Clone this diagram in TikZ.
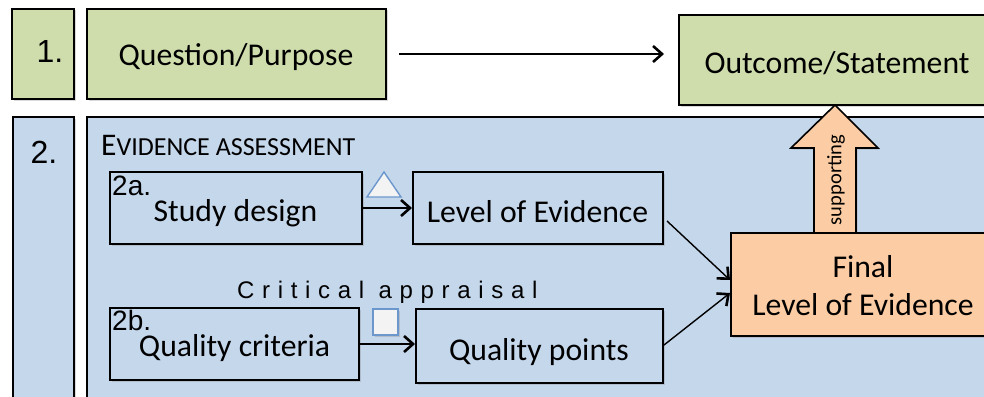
\documentclass[tikz,border=0pt]{standalone}
\usepackage{fontspec}
\setmainfont{Carlito}
\newfontfamily\arialf{Liberation Sans}
\newfontfamily\arialsp[LetterSpace=32]{Liberation Sans}
\usetikzlibrary{arrows.meta,shadows}
\definecolor{gfill}{RGB}{207,221,172}
\definecolor{bfill}{RGB}{197,215,235}
\definecolor{ofill}{RGB}{252,205,164}
\definecolor{sblue}{RGB}{108,151,205}
\definecolor{sfill}{RGB}{243,243,243}
\tikzset{
  box/.style={draw=black, line width=2pt, rectangle, inner sep=0pt,
    drop shadow={shadow xshift=1.5pt, shadow yshift=-1.5pt, opacity=0.3}},
  gbox/.style={box, fill=gfill},
  bbox/.style={box, fill=bfill},
  obox/.style={box, fill=ofill},
  txt/.style={inner sep=0pt, anchor=base, font=\fontsize{31.7}{38}\selectfont},
  numtxt/.style={inner sep=0pt, anchor=base, font=\arialf\fontsize{32}{36}\selectfont},
  subtxt/.style={inner sep=0pt, anchor=base west, font=\arialf\fontsize{28}{32}\selectfont},
  arr/.style={line width=1.4pt, -{Straight Barb[length=9pt, width=16pt, line width=2.6pt]}},
  marker/.style={draw=sblue, fill=sfill, line width=1.4pt},
}
\begin{document}
\begin{tikzpicture}[x=1pt,y=-1pt]
\useasboundingbox (0,0) rectangle (984,396);
\clip (0,0) rectangle (984,396);

% row 1
\node[gbox, minimum width=62pt, minimum height=90pt] (n1) at (43,54) {};
\node[gbox, minimum width=299pt, minimum height=90pt] (q) at (236.5,54) {};
\node[gbox, minimum width=316pt, minimum height=90pt] (out) at (837,60) {};
\node[numtxt] (t1) at (50,63) {1.};
\node[txt] (tq) at (236,66) {Question/Purpose};
\node[txt] (tout) at (837,73) {Outcome/Statement};
\draw[arr, shorten <=12pt, shorten >=14pt] (q.east) -- (q.east -| out.west);

% row 2 frames
\node[bbox, minimum width=61pt, minimum height=293pt] (n2) at (43.5,263.5) {};
\node[bbox, minimum width=913pt, minimum height=293pt] (big) at (543.5,263.5) {};
\node[numtxt] (t2) at (44,163) {2.};
\node[inner sep=0pt, anchor=base west] (tea) at (101,155)
  {{\fontsize{31.5}{36}\selectfont E}{\fontsize{26}{30}\selectfont VIDENCE ASSESSMENT}};

% supporting arrow
\path[fill=ofill, draw=black, line width=1.6pt,
  drop shadow={shadow xshift=1.5pt, shadow yshift=-1.5pt, opacity=0.3}]
  (814,234) -- (814,148) -- (791,148) -- (835,105) -- (878,148) -- (856,148) -- (856,234) -- cycle;
\node[inner sep=0pt, rotate=90, font=\fontsize{20.5}{24}\selectfont] (tsup) at (836,180) {supporting};

% inner boxes
\node[bbox, minimum width=252pt, minimum height=72pt] (sd) at (236,208) {};
\node[bbox, minimum width=250pt, minimum height=72pt] (loe) at (538,208) {};
\node[bbox, minimum width=249pt, minimum height=72pt] (qc) at (234.5,344) {};
\node[bbox, minimum width=247pt, minimum height=74pt] (qp) at (539.5,346) {};
\node[obox, minimum width=264pt, minimum height=103pt] (fin) at (863,284.5) {};

\node[subtxt] (t2a) at (112,195) {2a.};
\node[txt] (tsd) at (235.5,221) {Study design};
\node[txt] (tloe) at (537.5,222) {Level of Evidence};
\node[subtxt] (t2b) at (112,330) {2b.};
\node[txt] (tqc) at (234.5,356) {Quality criteria};
\node[txt] (tqp) at (539,360) {Quality points};
\node[txt] (tfin1) at (863,277) {Final};
\node[txt] (tfin2) at (863,315) {Level of Evidence};
\node[inner sep=0pt, anchor=base west, font=\arialsp\fontsize{24}{28}\selectfont] (tca) at (237,298) {Critical appraisal};

% markers
\path[marker] (367,197) -- (384,172) -- (401,197) -- cycle;
\node[marker, minimum width=25pt, minimum height=26pt, inner sep=0pt,
  drop shadow={shadow xshift=1.5pt, shadow yshift=-1.5pt, opacity=0.3}] (sq) at (385.5,322) {};

% connectors
\draw[arr] (sd.east) -- (loe.west);
\draw[arr] (qc.east) -- (qc.east -| qp.west);
\draw[arr] ([xshift=3pt, yshift=-13pt]loe.east) -- ([yshift=4.5pt]fin.west);
\draw[arr] ([yshift=1pt]qp.east) -- ([yshift=-8.5pt]fin.west);
\end{tikzpicture}
\end{document}
